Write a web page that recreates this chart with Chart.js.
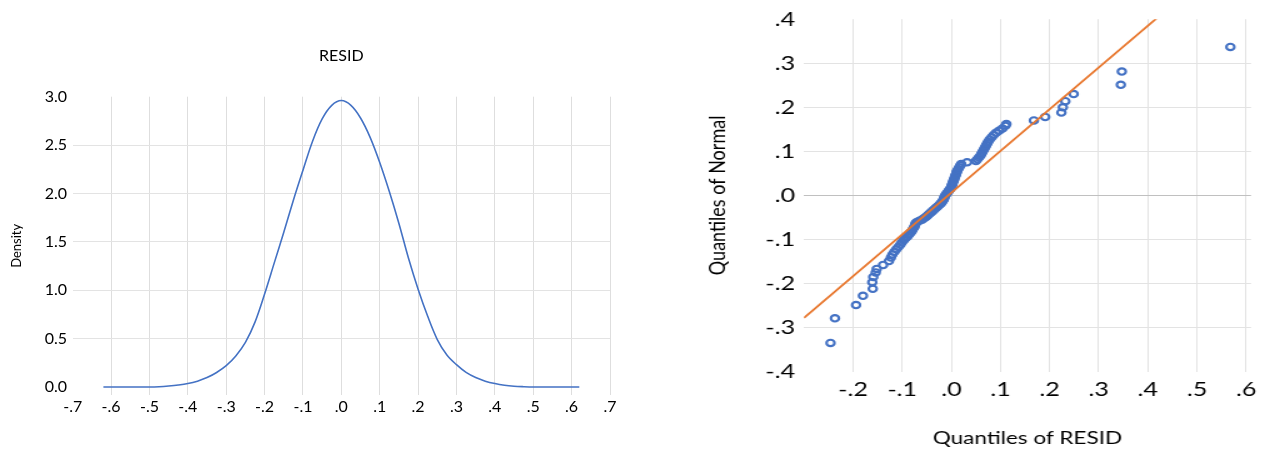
<!DOCTYPE html>
<html>
<head>
<meta charset="utf-8">
<script src="https://cdn.jsdelivr.net/npm/chart.js@4.4.1/dist/chart.umd.min.js"></script>
<style>
  html, body { margin: 0; padding: 0; background: #fff; overflow: hidden; }
  #densityBox { position: absolute; left: 0; top: 0; width: 640px; height: 453px; }
  #qqBox { position: absolute; left: 700px; top: 0; width: 454px; height: 453px; transform: scaleX(1.25); transform-origin: 0 0; }
</style>
</head>
<body>
<div id="densityBox"><canvas id="density" width="640" height="453"></canvas></div>
<div id="qqBox"><canvas id="qq" width="454" height="453"></canvas></div>
<script>
// kernel density of RESID
const densX = [-0.62, -0.55, -0.50, -0.475, -0.45, -0.425, -0.40, -0.375, -0.35, -0.325, -0.30, -0.275,
  -0.25, -0.225, -0.20, -0.175, -0.15, -0.125, -0.10, -0.075, -0.05, -0.025, 0, 0.025, 0.05, 0.075,
  0.10, 0.125, 0.15, 0.175, 0.20, 0.225, 0.25, 0.275, 0.30, 0.325, 0.35, 0.375, 0.40, 0.425, 0.45,
  0.475, 0.50, 0.55, 0.62];
const densY = [0, 0, 0, 0.003, 0.01, 0.02, 0.035, 0.06, 0.097, 0.15, 0.22, 0.32,
  0.46, 0.67, 0.96, 1.28, 1.60, 1.93, 2.24, 2.54, 2.77, 2.91, 2.96, 2.91, 2.78, 2.58,
  2.32, 2.02, 1.69, 1.33, 1.01, 0.73, 0.49, 0.33, 0.23, 0.15, 0.097, 0.06, 0.035, 0.018, 0.008,
  0.003, 0, 0, 0];
const densXTicks = [-0.7, -0.6, -0.5, -0.4, -0.3, -0.2, -0.1, 0, 0.1, 0.2, 0.3, 0.4, 0.5, 0.6, 0.7];
const densYTicks = [0, 0.5, 1.0, 1.5, 2.0, 2.5, 3.0];

// quantile-quantile points (right panel)
const qqResid = [-0.246, -0.237, -0.194, -0.180, -0.160, -0.161, -0.159, -0.154, -0.152, -0.139,
  -0.127, -0.123, -0.120, -0.116, -0.112, -0.108, -0.104, -0.101, -0.097, -0.094,
  -0.090, -0.087, -0.084, -0.081, -0.079, -0.077, -0.075, -0.074, -0.073, -0.071,
  -0.066, -0.060, -0.056, -0.052, -0.049, -0.046, -0.043, -0.040, -0.037, -0.034,
  -0.031, -0.028, -0.025, -0.022, -0.020, -0.018, -0.016, -0.015, -0.014, -0.013,
  -0.011, -0.009, -0.007, -0.005, -0.003, -0.001, 0.000, 0.001, 0.002, 0.003,
  0.004, 0.005, 0.006, 0.007, 0.008, 0.009, 0.010, 0.011, 0.012, 0.014,
  0.016, 0.018, 0.020, 0.032, 0.050, 0.053, 0.056, 0.059, 0.061, 0.063,
  0.065, 0.067, 0.069, 0.071, 0.073, 0.075, 0.078, 0.082, 0.086, 0.091,
  0.097, 0.104, 0.110, 0.112, 0.168, 0.191, 0.224, 0.227, 0.232, 0.249,
  0.345, 0.347, 0.568];
const qqNormal = [-0.335, -0.279, -0.249, -0.228, -0.212, -0.197, -0.185, -0.175, -0.167, -0.158,
  -0.149, -0.141, -0.134, -0.128, -0.122, -0.117, -0.112, -0.107, -0.102, -0.098,
  -0.094, -0.090, -0.086, -0.082, -0.078, -0.074, -0.071, -0.067, -0.064, -0.061,
  -0.058, -0.055, -0.052, -0.049, -0.046, -0.043, -0.040, -0.037, -0.034, -0.031,
  -0.028, -0.025, -0.022, -0.019, -0.016, -0.013, -0.010, -0.007, -0.004, -0.001,
  0.002, 0.005, 0.008, 0.011, 0.014, 0.017, 0.020, 0.023, 0.026, 0.029,
  0.032, 0.035, 0.038, 0.041, 0.044, 0.047, 0.050, 0.053, 0.056, 0.060,
  0.064, 0.068, 0.071, 0.075, 0.078, 0.082, 0.086, 0.090, 0.094, 0.098,
  0.102, 0.106, 0.110, 0.114, 0.118, 0.122, 0.127, 0.132, 0.137, 0.142,
  0.147, 0.152, 0.158, 0.162, 0.170, 0.178, 0.188, 0.200, 0.214, 0.230,
  0.251, 0.281, 0.337];
const refLineX = [-0.30, 0.61];
const refLineY = [-0.278, 0.584];
const qqXTicks = [-0.2, -0.1, 0, 0.1, 0.2, 0.3, 0.4, 0.5, 0.6];
const qqYTicks = [-0.4, -0.3, -0.2, -0.1, 0, 0.1, 0.2, 0.3, 0.4];

Chart.defaults.font.family = 'Lato';
Chart.defaults.color = '#000';

// ".3", "-.2", ".0" style labels
function dotLabel(v) {
  const s = Math.abs(v).toFixed(1).replace(/^0/, '');
  return (v < -1e-9 ? '-' : '') + s;
}
function setTicks(list) {
  return (scale) => { scale.ticks = list.map(v => ({ value: v })); };
}

new Chart(document.getElementById('density'), {
  type: 'line',
  data: {
    datasets: [{
      data: densX.map((x, i) => ({ x: x, y: densY[i] })),
      borderColor: '#4472c4',
      borderWidth: 1.6,
      pointRadius: 0,
      tension: 0.35,
      fill: false
    }]
  },
  options: {
    responsive: false,
    animation: false,
    layout: { padding: { left: 8.8, top: 46, right: 30, bottom: 0 } },
    plugins: {
      legend: { display: false },
      tooltip: { enabled: false },
      title: {
        display: true,
        fullSize: false,
        text: 'RESID',
        font: { size: 16, weight: 'normal' },
        color: '#000',
        padding: { top: 0, bottom: 31.5 }
      }
    },
    scales: {
      x: {
        type: 'linear',
        min: -0.7,
        max: 0.7,
        afterBuildTicks: setTicks(densXTicks),
        afterFit: (s) => { s.height = 58; },
        ticks: { callback: dotLabel, font: { size: 16 }, padding: 2.4, maxRotation: 0, autoSkip: false },
        grid: { color: (c) => (c.tick && Math.abs(c.tick.value + 0.7) < 1e-6 ? 'rgba(0,0,0,0)' : '#dedede'), drawTicks: false },
        border: { display: false }
      },
      y: {
        min: -0.083,
        max: 3.0,
        afterBuildTicks: setTicks(densYTicks),
        afterFit: (s) => { s.width = 63.9; },
        ticks: { callback: (v) => v.toFixed(1), font: { size: 16 }, padding: 5.7 },
        grid: { color: (c) => (c.tick && (c.tick.value === 0 || c.tick.value === 3) ? 'rgba(0,0,0,0)' : '#e3e3e3'), drawTicks: false },
        border: { display: false },
        title: { display: true, text: 'Density', font: { size: 13 }, padding: 0 }
      }
    }
  }
});

new Chart(document.getElementById('qq'), {
  type: 'scatter',
  data: {
    datasets: [{
      type: 'line',
      data: refLineX.map((x, i) => ({ x: x, y: refLineY[i] })),
      borderColor: '#e8772e',
      borderWidth: 1.8,
      pointRadius: 0,
      fill: false,
      order: 0
    }, {
      data: qqResid.map((x, i) => ({ x: x, y: qqNormal[i] })),
      pointStyle: 'circle',
      pointRadius: 3.2,
      pointBorderWidth: 2.1,
      pointBorderColor: '#4472c4',
      pointBackgroundColor: 'rgba(0,0,0,0)',
      order: 1
    }]
  },
  options: {
    responsive: false,
    animation: false,
    layout: { padding: { left: 3, top: 16.4, right: 13.2, bottom: 0 } },
    plugins: { legend: { display: false }, tooltip: { enabled: false } },
    scales: {
      x: {
        type: 'linear',
        min: -0.3,
        max: 0.61,
        afterBuildTicks: setTicks(qqXTicks),
        afterFit: (s) => { s.height = 81.4; },
        ticks: { callback: dotLabel, font: { size: 20 }, padding: 6.4, maxRotation: 0, autoSkip: false },
        grid: { color: '#e3e3e3', drawTicks: false },
        border: { display: false },
        title: { display: true, text: 'Quantiles of RESID', font: { size: 18 }, padding: { top: 0, bottom: 4 } }
      },
      y: {
        min: -0.4,
        max: 0.4,
        afterBuildTicks: setTicks(qqYTicks),
        afterFit: (s) => { s.width = 80.2; },
        ticks: { callback: dotLabel, font: { size: 20 }, padding: 7.2 },
        grid: {
          color: (c) => {
            const v = c.tick ? c.tick.value : 1;
            if (Math.abs(Math.abs(v) - 0.4) < 1e-6) return 'rgba(0,0,0,0)';
            return Math.abs(v) < 1e-6 ? '#c0c0c0' : '#e3e3e3';
          },
          drawTicks: false
        },
        border: { display: false },
        title: { display: true, text: 'Quantiles of Normal', font: { size: 18 }, padding: 0 }
      }
    }
  }
});
</script>
</body>
</html>
